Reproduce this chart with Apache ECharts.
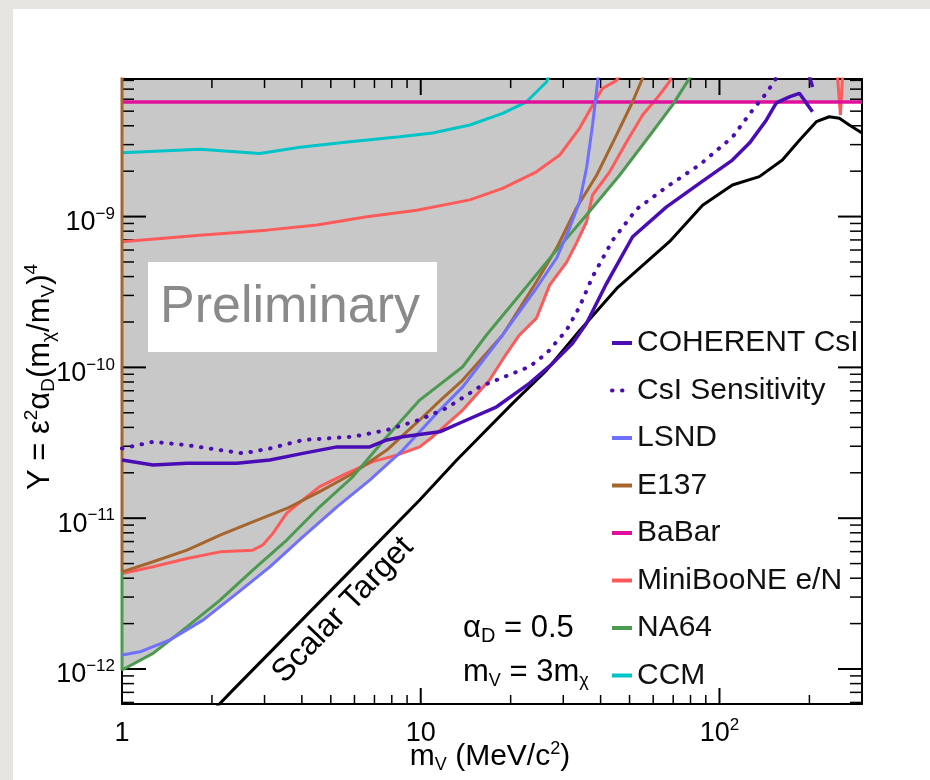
<!DOCTYPE html>
<html>
<head>
<meta charset="utf-8">
<script src="https://cdn.jsdelivr.net/npm/echarts@6/dist/echarts.min.js"></script>
<style>
html,body{margin:0;padding:0;background:#e7e5e0;}
#panel{position:absolute;left:13px;top:9px;width:917px;height:771px;background:#ffffff;}
#chart{position:absolute;left:0;top:0;width:930px;height:780px;}
</style>
</head>
<body>
<div id="panel"></div>
<div id="chart"></div>
<script>
// ---- data (m_chi in MeV, Y) ----
const xRange = [1, 300];
const yRange = [5.86e-13, 8.17e-9];
const xMajorTicks = [1, 10, 100];
const xMinorTicks = [2,3,4,5,6,7,8,9,20,30,40,50,60,70,80,90,200];
const yMajorTicks = [1e-12, 1e-11, 1e-10, 1e-9];
const yMinorFactors = [2,3,4,5,6,7,8,9];
const yMinorDecades = [1e-13, 1e-12, 1e-11, 1e-10, 1e-9];

const coherent = [[1,2.43e-11],[1.27,2.25e-11],[1.65,2.31e-11],[2.425,2.31e-11],[3.126,2.43e-11],[4.03,2.69e-11],[5.24,2.97e-11],[6.75,2.97e-11],[7.70,3.30e-11],[8.71,3.47e-11],[11.58,3.74e-11],[13.82,4.36e-11],[17.96,5.48e-11],[23.1,7.83e-11],[27.6,1.06e-10],[32.2,1.44e-10],[35.9,1.96e-10],[41.9,3.61e-10],[46.3,5.15e-10],[51.2,7.35e-10],[66.5,1.16e-9],[85.7,1.66e-9],[110.5,2.37e-9],[126,3.07e-9],[143.6,4.37e-9],[155,5.67e-9],[171.4,6.22e-9],[185.2,6.57e-9],[204.8,4.96e-9]];
const coherentTail = [[192,1.1e-8],[205,7.23e-9]];
const csiSensitivity = [[1,2.90e-11],[1.27,3.21e-11],[1.65,3.05e-11],[2.13,2.83e-11],[2.54,2.69e-11],[3.126,2.90e-11],[4.03,3.30e-11],[5.92,3.47e-11],[7.70,3.84e-11],[9.92,4.5e-11],[12.2,5.37e-11],[15.75,7.43e-11],[23.1,1.01e-10],[26.4,1.24e-10],[30.8,1.77e-10],[34.0,2.52e-10],[37.6,3.99e-10],[43.9,6.98e-10],[52.8,1.12e-9],[66.5,1.57e-9],[85.7,2.20e-9],[110.5,3.36e-9],[129,5.08e-9],[143.6,6.59e-9],[155,8.28e-9],[160,1.1e-8]];
const lsnd = [[1.0,1.24e-12],[1.149,1.30e-12],[1.447,1.56e-12],[1.866,2.11e-12],[2.425,3.17e-12],[3.126,4.76e-12],[4.03,7.53e-12],[5.24,1.19e-11],[6.75,1.79e-11],[8.71,2.83e-11],[11.31,4.96e-11],[13.82,7.43e-11],[18.8,1.64e-10],[24.4,3.36e-10],[28.5,5.31e-10],[31.5,8.39e-10],[34.0,1.25e-9],[35.9,2.10e-9],[37.6,4.05e-9],[39.1,7.84e-9],[39.6,1.1e-8]];
const e137 = [[1,1.1e-8],[1,4.41e-12],[1.27,5.14e-12],[1.65,6.14e-12],[2.13,7.73e-12],[2.74,9.46e-12],[3.56,1.16e-11],[4.59,1.50e-11],[5.92,1.98e-11],[7.70,2.83e-11],[9.92,4.48e-11],[11.58,6.0e-11],[13.82,8.24e-11],[18.8,1.64e-10],[24.4,3.70e-10],[28.5,6.18e-10],[33.2,1.14e-9],[38.8,1.88e-9],[45.2,3.47e-9],[51.2,5.77e-9],[55.3,8.28e-9],[58,1.1e-8]];
const babar = [[1,5.75e-9],[300,5.75e-9]];
const miniBooNELower = [[1,4.30e-12],[1.27,4.76e-12],[1.65,5.41e-12],[2.13,5.98e-12],[2.74,6.14e-12],[2.96,6.64e-12],[3.20,7.93e-12],[3.56,1.08e-11],[4.03,1.32e-11],[4.59,1.62e-11],[5.65,1.98e-11],[6.91,2.37e-11],[8.31,2.62e-11],[9.92,2.97e-11],[10.97,3.47e-11],[13.82,5.21e-11],[17.0,8.24e-11],[19.4,1.24e-10],[21.4,1.64e-10],[24.4,2.12e-10],[27.0,3.51e-10],[30.8,4.99e-10],[33.2,6.67e-10],[35.9,9.24e-10],[37.6,1.39e-9],[42.9,1.98e-9],[48.9,3.13e-9],[55.3,4.71e-9],[63.0,6.40e-9],[68.0,7.84e-9],[72,1.1e-8]];
const miniBooNEUpper = [[1,6.81e-10],[1.82,7.53e-10],[3.05,8.13e-10],[4.49,8.79e-10],[6.6,9.97e-10],[9.7,1.10e-9],[14.6,1.29e-9],[18.8,1.54e-9],[24.4,1.98e-9],[29.2,2.56e-9],[34.0,3.85e-9],[37.6,5.48e-9],[40.6,7.08e-9],[45.3,8.0e-9],[48,1.1e-8]];
const miniBooNESpike = [[246,1.1e-8],[254,4.7e-9],[260,1.1e-8]];
const na64 = [[1,4.4e-12],[1,9.84e-13],[1.27,1.27e-12],[1.65,1.90e-12],[2.13,2.86e-12],[2.74,4.53e-12],[3.56,7.16e-12],[4.59,1.19e-11],[5.92,1.88e-11],[7.70,3.47e-11],[9.92,6.07e-11],[13.82,1.01e-10],[16.6,1.64e-10],[21.4,3.01e-10],[27.6,5.55e-10],[36.7,1.08e-9],[46.3,1.88e-9],[59.7,3.65e-9],[69.6,5.48e-9],[79.4,8.28e-9],[84,1.1e-8]];
const ccm = [[1,2.65e-9],[1.82,2.79e-9],[2.89,2.62e-9],[3.94,2.88e-9],[5.79,3.13e-9],[8.51,3.38e-9],[10.97,3.58e-9],[14.6,4.05e-9],[18.8,4.83e-9],[22.6,5.77e-9],[26.4,7.84e-9],[28,1.1e-8]];
const scalarTarget = [[2.0,5.2e-13],[2.35,7.24e-13],[3.56,1.67e-12],[5.92,4.65e-12],[9.92,1.32e-11],[13.2,2.43e-11],[20.3,5.77e-11],[26.4,9.60e-11],[34.0,1.75e-10],[45.3,3.34e-10],[68.0,6.81e-10],[87.8,1.19e-9],[110.5,1.62e-9],[136,1.84e-9],[162.4,2.37e-9],[185.2,3.21e-9],[211,4.26e-9],[233,4.59e-9],[252,4.48e-9],[272,4.05e-9],[300,3.58e-9]];
// lower edge of the excluded (grey) region
const excludedEdge = [[1,9.84e-13],[1.24,1.22e-12],[1.447,1.56e-12],[1.866,2.11e-12],[2.425,3.17e-12],[3.126,4.76e-12],[4.03,7.53e-12],[5.24,1.19e-11],[6.75,1.79e-11],[8.3,2.55e-11],[9.92,2.97e-11],[10.97,3.47e-11],[13.82,5.21e-11],[17.0,8.24e-11],[19.4,1.24e-10],[21.4,1.64e-10],[24.4,2.12e-10],[27.0,3.51e-10],[30.8,4.99e-10],[33.2,6.67e-10],[35.9,9.24e-10],[36.6,1.05e-9],[46.3,1.88e-9],[59.7,3.65e-9],[69.6,5.48e-9],[71.3,5.75e-9],[300,5.75e-9]];

const legendNames = ['COHERENT CsI','CsI Sensitivity','LSND','E137','BaBar','MiniBooNE e/N','NA64','CCM'];
const colors = {
  'COHERENT CsI':'#4a0cb4','CsI Sensitivity':'#4a0cb4','LSND':'#7070ff','E137':'#a5652d',
  'BaBar':'#e0109c','MiniBooNE e/N':'#ff5a5a','NA64':'#4c9a50','CCM':'#00c4c8','Scalar Target':'#000000'
};

// ---- helpers ----
const L = Math.log10;
const toLog = pts => pts.map(p => [L(p[0]), L(p[1])]);
const FONT = "'Liberation Sans', Arial, Helvetica, sans-serif";
const yMinorTicks = [];
yMinorDecades.forEach(d => yMinorFactors.forEach(f => { const v = f*d; if (v > yRange[0] && v < yRange[1]) yMinorTicks.push(v); }));
const xTickData = xMajorTicks.map(v => [L(v), 1]).concat(xMinorTicks.map(v => [L(v), 0]));
const yTickData = yMajorTicks.map(v => [L(v), 1]).concat(yMinorTicks.map(v => [L(v), 0]));

const supRich = {
  b:{fontSize:27, lineHeight:34, fontFamily:FONT, color:'#000'},
  e:{fontSize:17, lineHeight:17, verticalAlign:'top', fontFamily:FONT, color:'#000'}
};
function xFmt(v){ const n=Math.round(v); if(n===0) return '{b|1}'; if(n===1) return '{b|10}'; return '{b|10}{e|'+n+'}'; }
function yFmt(v){ const n=Math.round(v); return '{b|10}{e|\u2212'+(-n)+'}'; }

function mkAxis(dim, pos, withLabel){
  const isX = dim==='x';
  const rng = isX ? xRange : yRange;
  const ax = {
    type:'value', position:pos, min:L(rng[0]), max:L(rng[1]), z:3,
    axisLine:{show:true, onZero:false, lineStyle:{color:'#000', width:2}},
    axisTick:{show:false},
    axisLabel:{show:false},
    splitLine:{show:false}
  };
  if (withLabel){
    ax.axisLabel = {show:true, customValues:(isX?xMajorTicks:yMajorTicks).map(L), formatter: isX?xFmt:yFmt, rich:supRich,
      margin: isX?13:7, padding: isX?[0,0,0,0]:[12,0,0,0]};
  }
  return ax;
}

function tickRenderer(dim){
  return function(params, api){
    const cs = params.coordSys;
    const v = api.value(0);
    const major = api.value(1) === 1;
    const st = {stroke:'#000', lineWidth: major ? 2 : 1.5};
    if (dim === 'x'){
      const len = major ? 16 : 9;
      const x = api.coord([v, L(yRange[0])])[0];
      return {type:'group', children:[
        {type:'line', shape:{x1:x, y1:cs.y+cs.height, x2:x, y2:cs.y+cs.height-len}, style:st},
        {type:'line', shape:{x1:x, y1:cs.y, x2:x, y2:cs.y+len}, style:st}
      ]};
    }
    const len = major ? 24 : 12;
    const y = api.coord([L(xRange[0]), v])[1];
    return {type:'group', children:[
      {type:'line', shape:{x1:cs.x, y1:y, x2:cs.x+len, y2:y}, style:st},
      {type:'line', shape:{x1:cs.x+cs.width, y1:y, x2:cs.x+cs.width-len, y2:y}, style:st}
    ]};
  };
}

function lineSeries(name, data, opts){
  opts = opts || {};
  return Object.assign({
    type:'line', name:name, data:toLog(data), symbol:'none', z:5, silent:true,
    lineStyle:{color:colors[name], width:3},
    itemStyle:{color:colors[name]}
  }, opts);
}

const chart = echarts.init(document.getElementById('chart'), null, {renderer:'canvas'});
const option = {
  animation:false,
  backgroundColor:'transparent',
  textStyle:{fontFamily:FONT},
  grid:{left:122, top:79, right:68, bottom:76, show:true, backgroundColor:'#c8c8c8', borderWidth:0, containLabel:false, outerBoundsMode:'none'},
  xAxis:[ mkAxis('x','bottom',true), mkAxis('x','top',false) ],
  yAxis:[ mkAxis('y','left',true), mkAxis('y','right',false) ],
  legend:{orient:'vertical', left:610, top:328, itemWidth:20, itemHeight:2, itemGap:17.5, padding:0,
    selectedMode:false, data:legendNames, itemStyle:{opacity:0}, lineStyle:{width:4},
    textStyle:{fontSize:30, lineHeight:30, color:'#111', fontFamily:FONT}},
  series:[
    {type:'line', name:'excluded', data:toLog(excludedEdge), symbol:'none', z:1, silent:true,
     lineStyle:{width:0, opacity:0}, areaStyle:{color:'#ffffff', opacity:1, origin:'start'}},
    {type:'custom', name:'xticks', data:xTickData, renderItem:tickRenderer('x'), z:4, silent:true, clip:false},
    {type:'custom', name:'yticks', data:yTickData, renderItem:tickRenderer('y'), z:4, silent:true, clip:false},
    lineSeries('Scalar Target', scalarTarget, {lineStyle:{color:'#000', width:3}}),
    lineSeries('CCM', ccm),
    lineSeries('MiniBooNE e/N', miniBooNEUpper),
    lineSeries('MiniBooNE e/N', miniBooNELower),
    lineSeries('MiniBooNE e/N', miniBooNESpike),
    lineSeries('BaBar', babar, {lineStyle:{color:colors['BaBar'], width:3.5}}),
    lineSeries('E137', e137),
    lineSeries('NA64', na64),
    lineSeries('LSND', lsnd),
    lineSeries('CsI Sensitivity', csiSensitivity, {lineStyle:{color:colors['CsI Sensitivity'], width:4, type:[0.5,9.5], cap:'round'}}),
    lineSeries('COHERENT CsI', coherent, {lineStyle:{color:colors['COHERENT CsI'], width:3.5}}),
    lineSeries('COHERENT CsI', coherentTail, {lineStyle:{color:colors['COHERENT CsI'], width:3.5}})
  ],
  graphic:[
    {type:'rect', shape:{x:148, y:262, width:289, height:90}, style:{fill:'#ffffff'}, z:2, silent:true},
    {type:'text', x:290, y:308, z:3, silent:true, style:{text:'Preliminary', fontSize:52, fontFamily:FONT, fill:'#8a8a8a', align:'center', verticalAlign:'middle'}},
    {type:'text', x:343, y:610, z:6, silent:true, rotation:46.3*Math.PI/180,
     style:{text:'Scalar Target', fontSize:32, fontFamily:FONT, fill:'#000', align:'center', verticalAlign:'middle'}},
    {type:'text', x:463, y:628, z:6, silent:true,
     style:{text:'{t|\u03b1}{s|D}{t| = 0.5}', align:'left', verticalAlign:'middle',
       rich:{t:{fontSize:31, lineHeight:36, fontFamily:FONT, color:'#000'}, s:{fontSize:20, lineHeight:14, verticalAlign:'bottom', fontFamily:FONT, color:'#000'}}}},
    {type:'text', x:463, y:672, z:6, silent:true,
     style:{text:'{t|m}{s|V}{t| = 3m}{s|\u03c7}', align:'left', verticalAlign:'middle',
       rich:{t:{fontSize:31, lineHeight:36, fontFamily:FONT, color:'#000'}, s:{fontSize:18, lineHeight:14, verticalAlign:'bottom', fontFamily:FONT, color:'#000'}}}},
    {type:'text', x:490, y:757, z:6, silent:true,
     style:{text:'{t|m}{s|V}{t| (MeV/c}{p|2}{t|)}', align:'center', verticalAlign:'middle',
       rich:{t:{fontSize:30, lineHeight:34, fontFamily:FONT, color:'#000'},
             s:{fontSize:18, lineHeight:14, verticalAlign:'bottom', fontFamily:FONT, color:'#000'},
             p:{fontSize:18, lineHeight:16, verticalAlign:'top', fontFamily:FONT, color:'#000'}}}},
    {type:'text', x:40, y:377, z:6, silent:true, rotation:Math.PI/2,
     style:{text:'{t|Y = \u03b5}{p|2}{t|\u03b1}{s|D}{t|(m}{s|\u03c7}{t|/m}{s|V}{t|)}{p|4}', align:'center', verticalAlign:'middle',
       rich:{t:{fontSize:31, lineHeight:36, fontFamily:FONT, color:'#000'},
             s:{fontSize:19, lineHeight:14, verticalAlign:'bottom', fontFamily:FONT, color:'#000'},
             p:{fontSize:19, lineHeight:16, verticalAlign:'top', fontFamily:FONT, color:'#000'}}}}
  ]
};
chart.setOption(option);
</script>
</body>
</html>
